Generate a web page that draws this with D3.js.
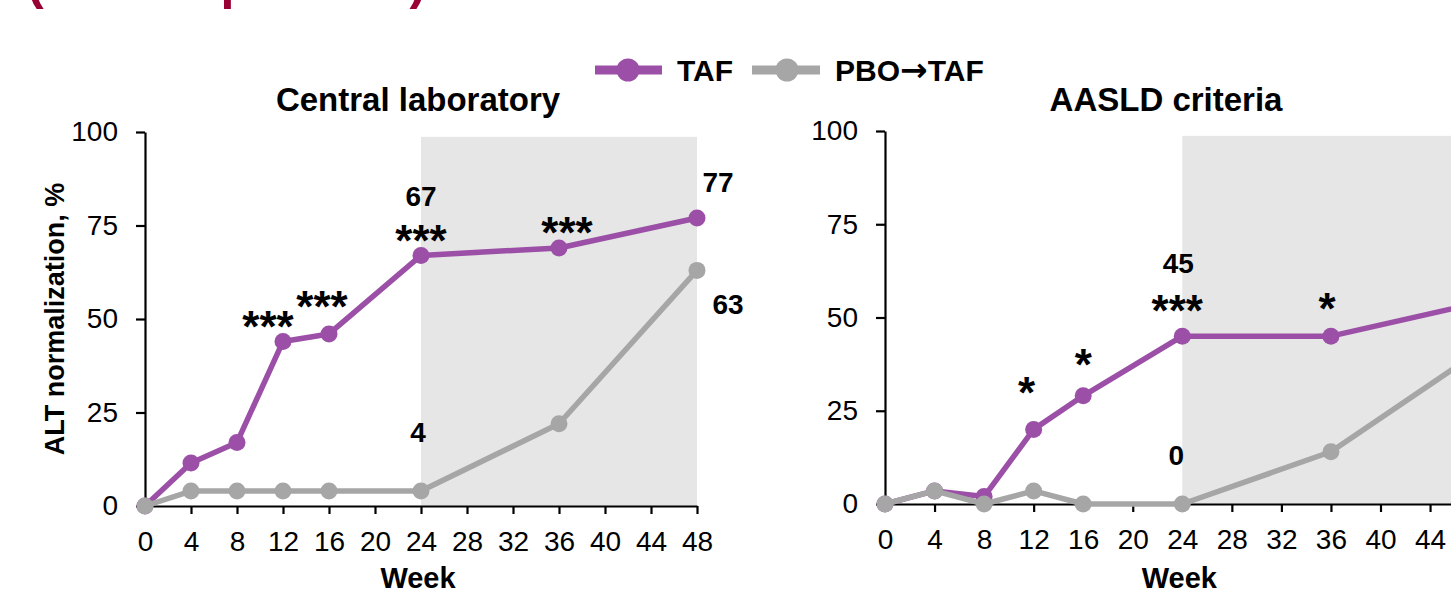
<!DOCTYPE html>
<html>
<head>
<meta charset="utf-8">
<script src="https://cdn.jsdelivr.net/npm/d3@7"></script>
<style>
  html, body { margin: 0; padding: 0; background: #fff; overflow: hidden; }
  text { font-family: Arial, "Liberation Sans", sans-serif; }
</style>
</head>
<body>
<div id="chart"></div>
<script>
// data
const weeks = [0, 4, 8, 12, 16, 24, 36, 48];
const centralTAF = [0, 11.5, 17, 44, 46, 67, 69, 77];
const centralPBO = [0, 4, 4, 4, 4, 4, 22, 63];
const aasldTAF = [0, 3.5, 2, 20, 29, 45, 45, 54];
const aasldPBO = [0, 3.5, 0, 3.5, 0, 0, 14, 41];
const xTicks = [0, 4, 8, 12, 16, 20, 24, 28, 32, 36, 40, 44, 48];
const yTicks = [0, 25, 50, 75, 100];
const shadeWeeks = [24, 48];

// annotations: week, series, label
const centralNotes = [
  { week: 12, series: "TAF", text: "***" },
  { week: 16, series: "TAF", text: "***" },
  { week: 24, series: "TAF", text: "***" },
  { week: 24, series: "TAF", text: "67" },
  { week: 36, series: "TAF", text: "***" },
  { week: 48, series: "TAF", text: "77" },
  { week: 48, series: "PBO", text: "63" },
  { week: 24, series: "PBO", text: "4" }
];
const aasldNotes = [
  { week: 12, series: "TAF", text: "*" },
  { week: 16, series: "TAF", text: "*" },
  { week: 24, series: "TAF", text: "***" },
  { week: 24, series: "TAF", text: "45" },
  { week: 36, series: "TAF", text: "*" },
  { week: 24, series: "PBO", text: "0" }
];

// label offsets from their point, px (same order as the notes)
const centralOffsets = [[-15, -25], [-7, -37], [0, -25], [0, -60], [8, -25], [21, -36], [31, 34], [-3, -59]];
const aasldOffsets = [[-7, -47], [0, -41], [-5, -36], [-4, -73], [-4, -38], [-6, -49]];

const purple = "#9b4fa6", grey = "#a6a6a6";

const W = 1451, H = 593;
const svg = d3.select("#chart").append("svg")
  .attr("width", W)
  .attr("height", H);

// cut-off heading at the top
svg.append("text")
  .attr("x", 27)
  .attr("y", -1)
  .style("font-size", "50px")
  .style("font-weight", "bold")
  .style("fill", "#990033")
  .text("(TAF vs placebo)");

// legend
const legend = svg.append("g");
[["TAF", "", purple, 595, 662, 628, 677], ["PBO", "TAF", grey, 752, 820, 787, 835]].forEach(([name, after, col, a, b, c, tx]) => {
  legend.append("line")
    .attr("x1", a).attr("x2", b).attr("y1", 70).attr("y2", 70)
    .attr("stroke", col).attr("stroke-width", 9);
  legend.append("circle")
    .attr("cx", c).attr("cy", 70).attr("r", 11.5).attr("fill", col);
  const t = legend.append("text")
    .attr("x", tx).attr("y", 81)
    .style("font-size", "30px").style("font-weight", "bold");
  t.append("tspan").text(name);
  if (after) {
    t.append("tspan")
      .style("font-family", "'DejaVu Sans', sans-serif")
      .style("font-size", "33px")
      .text("\u2192");
    t.append("tspan").text(after);
  }
});

const panels = [
  { title: "Central laboratory", tx: 418, xr: [145, 697], yr: [506, 132], taf: centralTAF, pbo: centralPBO, notes: centralNotes, offs: centralOffsets, ylab: true },
  { title: "AASLD criteria", tx: 1166, xr: [885, 1479.6], yr: [504, 131], taf: aasldTAF, pbo: aasldPBO, notes: aasldNotes, offs: aasldOffsets, ylab: false }
];

panels.forEach(p => {
  const g = svg.append("g");
  const x = d3.scaleLinear().domain([0, 48]).range(p.xr);
  const y = d3.scaleLinear().domain([0, 100]).range(p.yr);

  // shaded open-label phase
  g.append("rect")
    .attr("x", x(shadeWeeks[0]))
    .attr("width", x(shadeWeeks[1]) - x(shadeWeeks[0]))
    .attr("y", y(98.7))
    .attr("height", y(0) - y(98.7))
    .attr("fill", "#e6e6e6");

  // axes
  const xa = g.append("g")
    .attr("transform", `translate(0,${y(0)})`)
    .call(d3.axisBottom(x).tickValues(xTicks).tickSize(8).tickSizeOuter(0).tickPadding(17));
  const ya = g.append("g")
    .attr("transform", `translate(${x(0)},0)`)
    .call(d3.axisLeft(y).tickValues(yTicks).tickSize(9).tickSizeOuter(0).tickPadding(18));
  [xa, ya].forEach(a => {
    a.selectAll("path, line").attr("stroke", "#000").attr("stroke-width", 2.2);
    a.selectAll("text").style("font-size", "28px").attr("fill", "#000")
      .style("font-family", "Arial, 'Liberation Sans', sans-serif");
  });

  // titles
  g.append("text")
    .attr("x", p.tx).attr("y", 111)
    .attr("text-anchor", "middle")
    .style("font-size", "33px").style("font-weight", "bold")
    .text(p.title);
  g.append("text")
    .attr("x", x(24) - 3).attr("y", 588)
    .attr("text-anchor", "middle")
    .style("font-size", "29px").style("font-weight", "bold")
    .text("Week");
  if (p.ylab) {
    g.append("text")
      .attr("transform", `translate(64,${y(50)}) rotate(-90)`)
      .attr("text-anchor", "middle")
      .style("font-size", "27px").style("font-weight", "bold")
      .text("ALT normalization, %");
  }

  // series, placebo drawn on top
  const line = d3.line().x((d, i) => x(weeks[i])).y(d => y(d));
  [[p.taf, purple], [p.pbo, grey]].forEach(([vals, col]) => {
    g.append("path")
      .datum(vals)
      .attr("d", line)
      .attr("fill", "none")
      .attr("stroke", col)
      .attr("stroke-width", 5.5)
      .attr("stroke-linejoin", "round");
    g.selectAll(null)
      .data(vals)
      .join("circle")
      .attr("cx", (d, i) => x(weeks[i]))
      .attr("cy", d => y(d))
      .attr("r", 8.5)
      .attr("fill", col);
  });

  // value labels and significance stars
  p.notes.forEach((n, i) => {
    const vals = n.series === "TAF" ? p.taf : p.pbo;
    const v = vals[weeks.indexOf(n.week)];
    const stars = n.text.startsWith("*");
    const [dx, dy] = p.offs[i];
    g.append("text")
      .attr("x", x(n.week) + dx)
      .attr("y", y(v) + dy)
      .attr("dy", stars ? "0.58em" : "0.36em")
      .attr("text-anchor", "middle")
      .style("font-size", stars ? "44px" : "28px")
      .style("font-weight", "bold")
      .text(n.text);
  });
});
</script>
</body>
</html>
